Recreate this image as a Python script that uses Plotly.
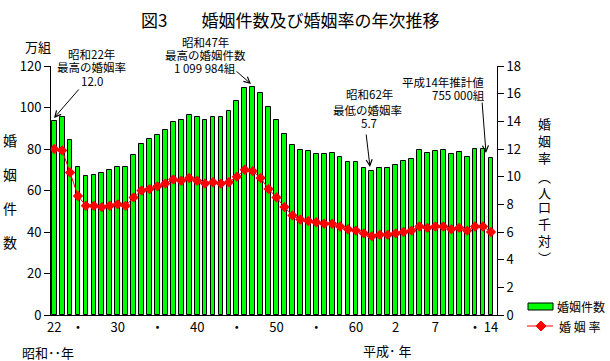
import plotly.graph_objects as go

years = list(range(1947, 2003))
marriages = [93.4, 95.4, 84.2, 71.5, 67.1, 67.6, 68.2, 69.8, 71.4, 71.5,
             77.3, 82.6, 84.7, 86.6, 89.1, 92.9, 93.8, 96.4, 95.5, 94.0,
             95.3, 95.6, 98.4, 102.9, 109.2, 110.0, 107.2, 100.1, 94.2, 87.2,
             82.1, 79.3, 78.9, 77.5, 77.7, 78.1, 76.3, 73.9, 73.6, 71.0,
             69.6, 70.8, 70.8, 72.2, 74.2, 75.4, 79.3, 78.2, 79.2, 79.5,
             77.6, 78.5, 76.2, 79.8, 80.0, 75.5]
rates = [12.0, 11.9, 10.3, 8.6, 7.9, 7.9, 7.8, 7.9, 8.0, 7.9,
         8.5, 9.0, 9.1, 9.3, 9.5, 9.8, 9.7, 9.9, 9.7, 9.5,
         9.6, 9.5, 9.6, 10.0, 10.5, 10.4, 9.9, 9.1, 8.5, 7.8,
         7.2, 6.9, 6.8, 6.7, 6.6, 6.6, 6.4, 6.2, 6.1, 5.9,
         5.7, 5.8, 5.8, 5.9, 6.0, 6.1, 6.4, 6.3, 6.4, 6.4,
         6.2, 6.3, 6.1, 6.4, 6.4, 6.0]
tick_years = [1947, 1950, 1955, 1960, 1965, 1970, 1975, 1980, 1985, 1990, 1995, 2000, 2002]
tick_text = ["22", "・", "30", "・", "40", "・", "50", "・", "60", "2", "7", "・", "14"]
left_ticks = [0, 20, 40, 60, 80, 100, 120]
right_ticks = [0, 2, 4, 6, 8, 10, 12, 14, 16, 18]

FONT = "Noto Sans CJK JP"
L, R, T, B = 51, 497, 66, 315
W, H = R - L, B - T


def xp(px):
    return (px - L) / W


def yp(py):
    return (B - py) / H


fig = go.Figure()
fig.add_trace(go.Bar(
    x=years, y=marriages, name="婚姻件数", width=0.6,
    marker=dict(color="#00ff00", line=dict(color="black", width=1)),
    yaxis="y", showlegend=False,
))
fig.add_trace(go.Scatter(
    x=years, y=rates, name="婚 姻 率", mode="lines+markers",
    line=dict(color="#ff0000", width=1),
    marker=dict(symbol="diamond", size=8, color="#ff0000"),
    yaxis="y2", showlegend=False,
))

ann = []


def txt(s, x, y, size=12, xanchor="center"):
    ann.append(dict(text=s, x=xp(x), y=yp(y), xref="paper", yref="paper",
                    showarrow=False, xanchor=xanchor, yanchor="middle",
                    font=dict(size=size, color="black", family=FONT)))


def arrow(hx, hy, tx, ty):
    ann.append(dict(text="", x=xp(hx), y=yp(hy), xref="paper", yref="paper",
                    ax=tx - hx, ay=ty - hy, axref="pixel", ayref="pixel",
                    showarrow=True, arrowhead=5, arrowsize=1.2, arrowwidth=1,
                    arrowcolor="black"))


txt("図3　　婚姻件数及び婚姻率の年次推移", 290, 20, size=17)
txt("万組", 38, 47, size=13)
txt("昭和22年", 91, 54, size=11.5)
txt("最高の婚姻率", 91, 67, size=11.5)
txt("12.0", 92, 81, size=11.5)
arrow(54, 118, 80, 88)
txt("昭和47年", 205, 42, size=11.5)
txt("最高の婚姻件数", 205, 55, size=11.5)
txt("1 099 984組", 205, 68, size=11.5)
arrow(251, 84, 235, 70)
txt("昭和62年", 369, 94, size=11.5)
txt("最低の婚姻率", 367, 110, size=11.5)
txt("5.7", 369, 123, size=11.5)
arrow(370, 167, 366, 133)
txt("平成14年推計値", 443, 82, size=11.5)
txt("755 000組", 458, 95, size=11.5)
arrow(486, 153, 482, 101)

for ch, y in zip("婚姻件数", [140, 174, 208, 242]):
    txt(ch, 10, y, size=14)
for ch, y in zip("婚姻率︵人口千対︶", [123, 140, 157, 176, 192, 206, 223, 240, 257]):
    txt(ch, 544, y, size=13)

txt("昭和･･年", 48, 352, size=13)
txt("平成･ 年", 387, 350, size=13)

txt("婚姻件数", 555, 306, xanchor="left")
txt("婚 姻 率", 557, 326, xanchor="left")

shapes = [
    dict(type="rect", xref="paper", yref="paper", x0=xp(528), x1=xp(553),
         y0=yp(310), y1=yp(303), fillcolor="#00ff00", line=dict(color="black", width=1)),
    dict(type="line", xref="paper", yref="paper", x0=xp(527), x1=xp(553),
         y0=yp(326), y1=yp(326), line=dict(color="#ff0000", width=1)),
    dict(type="path", xref="paper", yref="paper",
         path=f"M {xp(541)},{yp(321)} L {xp(546)},{yp(326)} L {xp(541)},{yp(331)} L {xp(536)},{yp(326)} Z",
         fillcolor="#ff0000", line=dict(color="#ff0000", width=1)),
]

fig.update_layout(
    width=610, height=361,
    margin=dict(l=L, r=610 - R, t=T, b=361 - B, pad=0),
    paper_bgcolor="white", plot_bgcolor="white",
    font=dict(family=FONT, size=13, color="black"),
    bargap=0,
    xaxis=dict(range=[1946.6, 2002.76], tickmode="array", tickvals=tick_years,
               ticktext=tick_text, showgrid=False, zeroline=False,
               showline=True, linecolor="black", linewidth=1, ticks="",
               tickfont=dict(size=13)),
    yaxis=dict(range=[0, 120], tickmode="array", tickvals=left_ticks,
               showgrid=False, zeroline=False, showline=True, linecolor="black",
               linewidth=1, ticks="outside", ticklen=6, tickcolor="black",
               tickfont=dict(size=13)),
    yaxis2=dict(range=[0, 18], tickmode="array", tickvals=right_ticks,
                overlaying="y", side="right", showgrid=False, zeroline=False,
                showline=True, linecolor="black", linewidth=1, ticks="outside",
                ticklen=6, tickcolor="black", tickfont=dict(size=13)),
    annotations=ann, shapes=shapes,
)

fig.write_html("out.html", config={"displayModeBar": False},
               post_script="document.body.style.margin='0';document.body.style.overflow='hidden';")
